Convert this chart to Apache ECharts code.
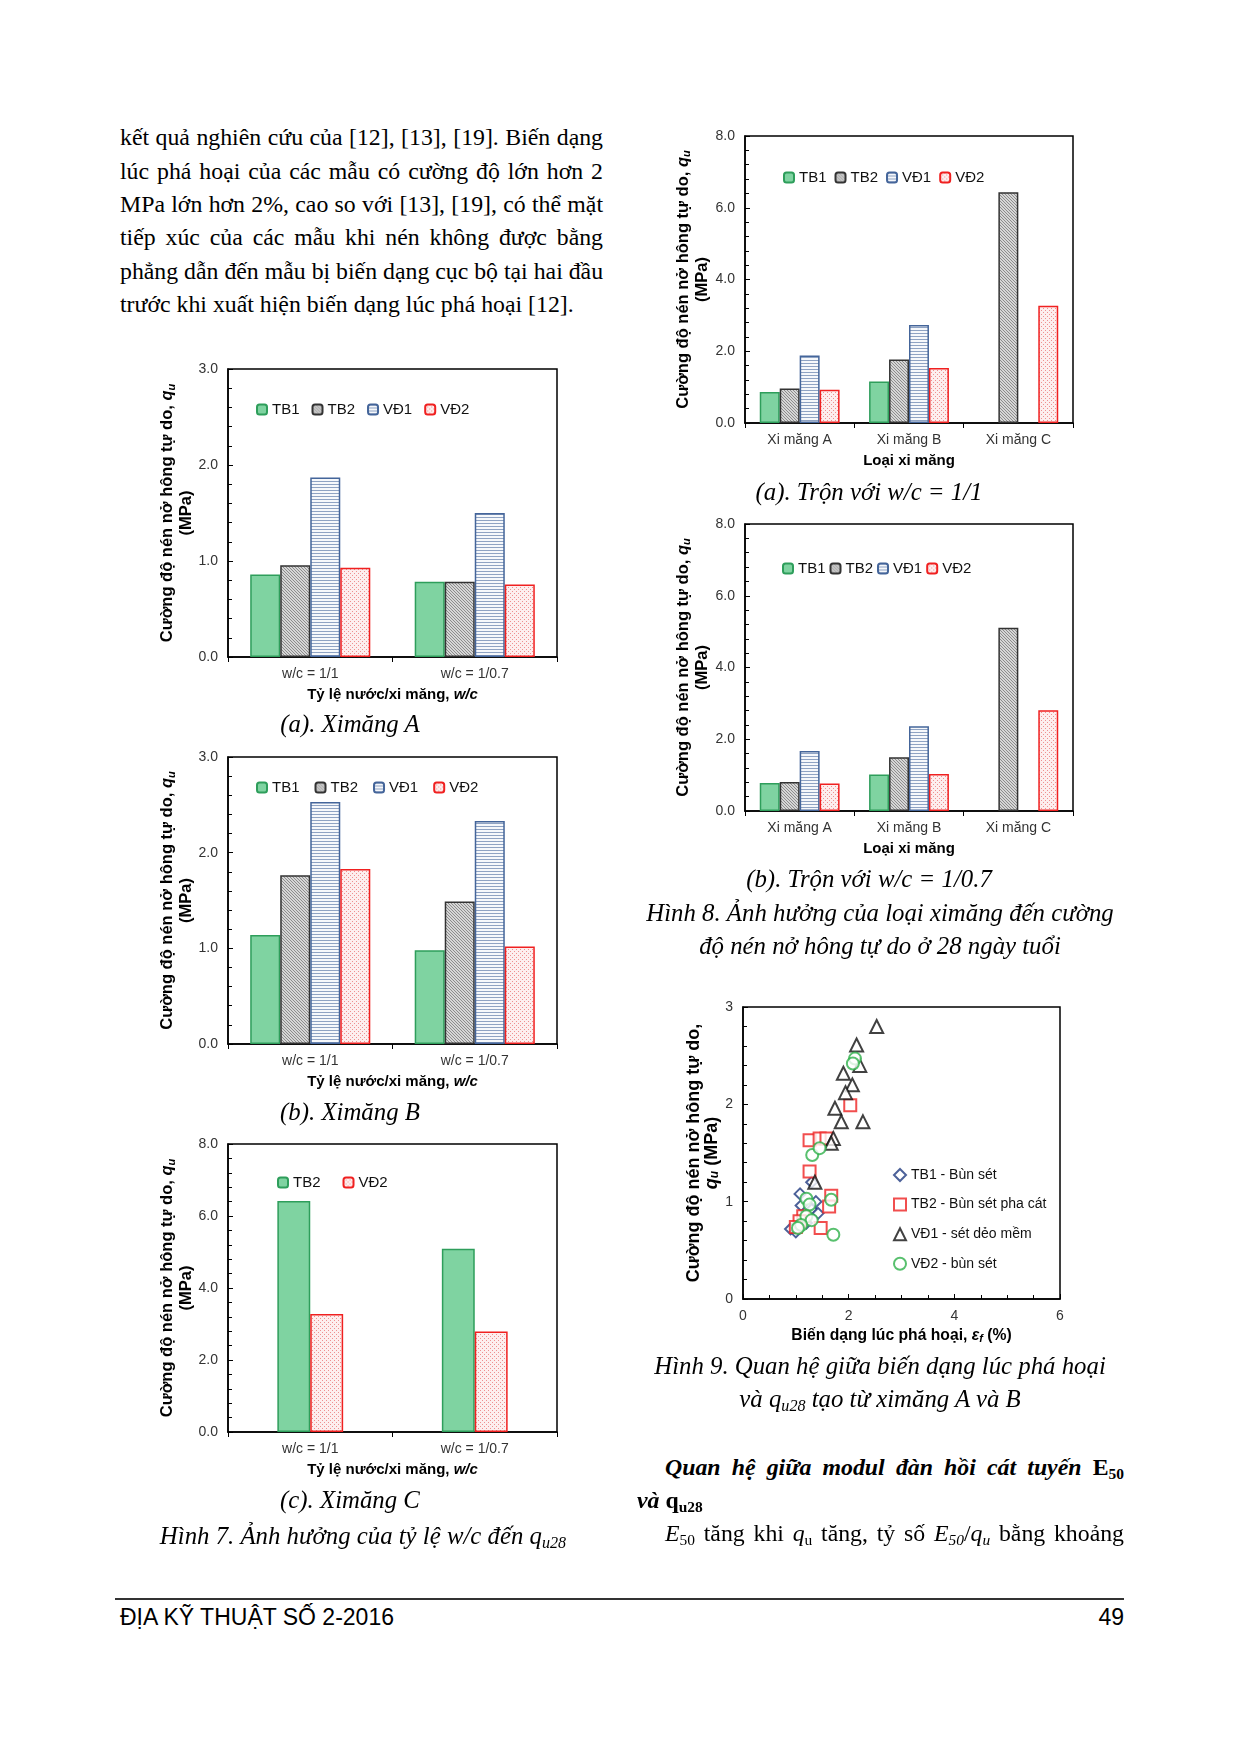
<!DOCTYPE html>
<html><head><meta charset="utf-8">
<script src="https://cdn.jsdelivr.net/npm/echarts@6/dist/echarts.min.js"></script>
<style>
html,body{margin:0;padding:0;background:#fff;}
body{width:1240px;height:1754px;position:relative;overflow:hidden;}
.t{position:absolute;font-family:"Liberation Serif","Times New Roman",serif;font-size:23.8px;line-height:34px;color:#000;white-space:nowrap;}
.j{text-align:justify;text-align-last:justify;}
.c{text-align:center;font-style:italic;font-size:24.8px;}
.ch{position:absolute;}
sub{font-size:65%;vertical-align:-0.25em;line-height:0;}
</style></head><body>

<div class="t j" style="left:120px;top:120px;width:483px;">kết quả nghiên cứu của [12], [13], [19]. Biến dạng</div>
<div class="t j" style="left:120px;top:154px;width:483px;">lúc phá hoại của các mẫu có cường độ lớn hơn 2</div>
<div class="t j" style="left:120px;top:187px;width:483px;">MPa lớn hơn 2%, cao so với [13], [19], có thể mặt</div>
<div class="t j" style="left:120px;top:220px;width:483px;">tiếp xúc của các mẫu khi nén không được bằng</div>
<div class="t j" style="left:120px;top:254px;width:483px;">phẳng dẫn đến mẫu bị biến dạng cục bộ tại hai đầu</div>
<div class="t" style="left:120px;top:287px;">trước khi xuất hiện biến dạng lúc phá hoại [12].</div>

<div class="ch" id="c7a" style="left:140px;top:355px;width:430px;height:360px;"></div>
<div class="t c" style="left:150px;top:707px;width:400px;">(a). Ximăng A</div>
<div class="ch" id="c7b" style="left:140px;top:745px;width:430px;height:360px;"></div>
<div class="t c" style="left:150px;top:1095px;width:400px;">(b). Ximăng B</div>
<div class="ch" id="c7c" style="left:140px;top:1130px;width:430px;height:360px;"></div>
<div class="t c" style="left:150px;top:1483px;width:400px;">(c). Ximăng C</div>
<div class="t c" style="left:113px;top:1519px;width:500px;">Hình 7. Ảnh hưởng của tỷ lệ w/c đến q<sub>u28</sub></div>

<div class="ch" id="c8a" style="left:655px;top:120px;width:430px;height:360px;"></div>
<div class="t c" style="left:669px;top:475px;width:400px;">(a). Trộn với w/c = 1/1</div>
<div class="ch" id="c8b" style="left:655px;top:510px;width:430px;height:360px;"></div>
<div class="t c" style="left:669px;top:862px;width:400px;">(b). Trộn với w/c = 1/0.7</div>
<div class="t c" style="left:610px;top:896px;width:540px;">Hình 8. Ảnh hưởng của loại ximăng đến cường</div>
<div class="t c" style="left:610px;top:929px;width:540px;">độ nén nở hông tự do ở 28 ngày tuổi</div>

<div class="ch" id="c9" style="left:670px;top:995px;width:420px;height:360px;"></div>
<div class="t c" style="left:610px;top:1349px;width:540px;">Hình 9. Quan hệ giữa biến dạng lúc phá hoại</div>
<div class="t c" style="left:610px;top:1382px;width:540px;">và q<sub>u28</sub> tạo từ ximăng A và B</div>

<div class="t j" style="left:665px;top:1450px;width:459px;font-weight:bold;font-style:italic;">Quan hệ giữa modul đàn hồi cát tuyến <span style="font-style:normal">E<sub>50</sub></span></div>
<div class="t" style="left:637px;top:1483px;font-weight:bold;"><i>và</i> q<sub>u28</sub></div>
<div class="t j" style="left:665px;top:1516px;width:459px;"><i>E</i><sub>50</sub> tăng khi <i>q</i><sub>u</sub> tăng, tỷ số <i>E<sub>50</sub></i>/<i>q<sub>u</sub></i> bằng khoảng</div>

<div style="position:absolute;left:115px;top:1598px;width:1009px;height:2px;background:#333;"></div>
<div style="position:absolute;left:120px;top:1604px;font-family:'Liberation Sans',Arial,sans-serif;font-size:23px;line-height:26px;">ĐỊA KỸ THUẬT SỐ 2-2016</div>
<div style="position:absolute;left:1024px;width:100px;text-align:right;top:1604px;font-family:'Liberation Sans',Arial,sans-serif;font-size:23px;line-height:26px;">49</div>

<script>
// ---------------- DATA ----------------
const seriesNames = ['TB1', 'TB2', 'VĐ1', 'VĐ2'];
const fig7Cats = ['w/c = 1/1', 'w/c = 1/0.7'];
const fig7a_TB1 = [0.86, 0.785];
const fig7a_TB2 = [0.955, 0.785];
const fig7a_VD1 = [1.87, 1.50];
const fig7a_VD2 = [0.93, 0.755];
const fig7b_TB1 = [1.14, 0.98];
const fig7b_TB2 = [1.765, 1.49];
const fig7b_VD1 = [2.53, 2.33];
const fig7b_VD2 = [1.83, 1.02];
const fig7c_TB2 = [6.42, 5.09];
const fig7c_VD2 = [3.28, 2.79];
const fig8Cats = ['Xi măng A', 'Xi măng B', 'Xi măng C'];
const fig8a_TB1 = [0.865, 1.155, null];
const fig8a_TB2 = [0.96, 1.77, 6.43];
const fig8a_VD1 = [1.88, 2.73, null];
const fig8a_VD2 = [0.93, 1.535, 3.27];
const fig8b_TB1 = [0.78, 1.02, null];
const fig8b_TB2 = [0.81, 1.50, 5.11];
const fig8b_VD1 = [1.67, 2.36, null];
const fig8b_VD2 = [0.77, 1.03, 2.81];
const fig9Names = ['TB1 - Bùn sét', 'TB2 - Bùn sét pha cát', 'VĐ1 - sét dẻo mềm', 'VĐ2 - bùn sét'];
const fig9_TB1 = [[0.9,0.72],[1.0,0.69],[1.08,1.08],[1.1,0.96],[1.2,0.78],[1.3,0.92],[1.38,1.0],[1.42,0.88],[1.3,1.2]];
const fig9_TB2 = [[2.03,1.99],[1.26,1.63],[1.45,1.65],[1.58,1.65],[1.26,1.31],[1.67,1.06],[1.63,0.95],[1.47,0.73],[1.14,0.85],[1.07,0.8],[1.0,0.74]];
const fig9_VD1 = [[2.53,2.8],[2.15,2.61],[2.21,2.4],[1.9,2.32],[2.07,2.2],[1.94,2.12],[1.74,1.96],[1.86,1.82],[2.27,1.82],[1.71,1.65],[1.67,1.6],[1.36,1.2]];
const fig9_VD2 = [[2.12,2.47],[2.08,2.42],[1.31,1.48],[1.45,1.55],[1.2,1.03],[1.26,0.97],[1.67,1.02],[1.71,0.66],[1.2,0.85],[1.3,0.81],[1.1,0.76],[1.04,0.73]];

// ---------------- STYLES ----------------
const SANS = '"Liberation Sans", Arial, sans-serif';
function tile(w, h, bg, pts, col) {
  const c = document.createElement('canvas'); c.width = w; c.height = h;
  const g = c.getContext('2d'); g.fillStyle = bg; g.fillRect(0, 0, w, h);
  g.fillStyle = col; pts.forEach(p => g.fillRect(p[0], p[1], p[2] || 1, p[3] || 1));
  return {image: c, repeat: 'repeat'};
}
const stTB1 = {color: '#7fd3a1', borderColor: '#2e9e5b', borderWidth: 1.5};
const stTB2 = {color: tile(3, 3, '#d6d6d6', [[0,0],[1,1],[2,2]], '#8c8c8c'), borderColor: '#333', borderWidth: 1.5};
const stVD1 = {color: tile(4, 3, '#f6f8fb', [[0,0,4,1]], '#8fa3c3'), borderColor: '#44659a', borderWidth: 1.5};
const stVD2 = {color: tile(4, 4, '#fdeeee', [[0,0],[2,2]], '#ee9090'), borderColor: '#f02020', borderWidth: 1.5};

function richSet(sz) {
  return {
    b: {fontFamily: SANS, fontWeight: 'bold', fontSize: sz, color: '#000'},
    q: {fontFamily: SANS, fontWeight: 'bold', fontStyle: 'italic', fontSize: sz, color: '#000'},
    s: {fontFamily: SANS, fontWeight: 'bold', fontStyle: 'italic', fontSize: Math.round(sz * 0.68), color: '#000', verticalAlign: 'bottom'}
  };
}

function barChart(id, o) {
  const ch = echarts.init(document.getElementById(id), null, {renderer: 'canvas'});
  ch.setOption({
    animation: false,
    grid: {left: o.grid[0], top: o.grid[1], width: o.grid[2], height: o.grid[3], show: true, borderColor: '#000', borderWidth: 1.5, containLabel: false},
    legend: {left: o.legend[0] - 5, top: o.legend[1] - 5, itemGap: o.legend[2], itemWidth: 10, itemHeight: 10,
      textStyle: {fontFamily: SANS, fontSize: 15, color: '#111'}, data: o.series.map(s => s.name)},
    xAxis: {type: 'category', data: o.cats,
      axisLine: {lineStyle: {color: '#000', width: 1.5}},
      axisTick: {show: true, alignWithLabel: false, length: 5, lineStyle: {color: '#000'}},
      axisLabel: {fontFamily: SANS, fontSize: 14, color: '#333', margin: 10},
      name: o.xName, nameLocation: 'middle', nameGap: 30, nameMoveOverlap: false,
      nameTextStyle: {rich: richSet(15)}},
    yAxis: {type: 'value', min: 0, max: o.yMax, interval: o.yInt,
      axisLine: {show: true, lineStyle: {color: '#000', width: 1.5}},
      axisTick: {show: true, inside: true, length: 5, lineStyle: {color: '#000'}},
      minorTick: {show: true, splitNumber: 5, length: 4, lineStyle: {color: '#000'}},
      splitLine: {show: false},
      axisLabel: {fontFamily: SANS, fontSize: 14, color: '#333', margin: 10, formatter: v => v.toFixed(1)},
      name: '{b|Cường độ nén nở hông tự do, }{q|q}{s|u}\n{b|(MPa)}',
      nameLocation: 'middle', nameRotate: 90, nameGap: o.yGap, nameMoveOverlap: false,
      nameTextStyle: {rich: richSet(16.5), lineHeight: 19}},
    series: o.series.map(s => ({type: 'bar', name: s.name, data: s.data, itemStyle: s.style,
      barGap: '0%', barCategoryGap: o.catGap}))
  });
}

barChart('c7a', {cats: fig7Cats, grid: [88, 14, 329, 288], legend: [116, 47, 12], yMax: 3, yInt: 1, yGap: 32, catGap: '27%',
  xName: '{b|Tỷ lệ nước/xi măng, }{q|w/c}',
  series: [{name: 'TB1', data: fig7a_TB1, style: stTB1}, {name: 'TB2', data: fig7a_TB2, style: stTB2},
           {name: 'VĐ1', data: fig7a_VD1, style: stVD1}, {name: 'VĐ2', data: fig7a_VD2, style: stVD2}]});
barChart('c7b', {cats: fig7Cats, grid: [88, 12, 329, 287], legend: [116, 35, 15], yMax: 3, yInt: 1, yGap: 32, catGap: '27%',
  xName: '{b|Tỷ lệ nước/xi măng, }{q|w/c}',
  series: [{name: 'TB1', data: fig7b_TB1, style: stTB1}, {name: 'TB2', data: fig7b_TB2, style: stTB2},
           {name: 'VĐ1', data: fig7b_VD1, style: stVD1}, {name: 'VĐ2', data: fig7b_VD2, style: stVD2}]});
barChart('c7c', {cats: fig7Cats, grid: [88, 14, 329, 288], legend: [137, 45, 22], yMax: 8, yInt: 2, yGap: 32, catGap: '60%',
  xName: '{b|Tỷ lệ nước/xi măng, }{q|w/c}',
  series: [{name: 'TB2', data: fig7c_TB2, style: stTB1}, {name: 'VĐ2', data: fig7c_VD2, style: stVD2}]});
barChart('c8a', {cats: fig8Cats, grid: [90, 16, 328, 287], legend: [128, 50, 8], yMax: 8, yInt: 2, yGap: 33.5, catGap: '27%',
  xName: '{b|Loại xi măng}',
  series: [{name: 'TB1', data: fig8a_TB1, style: stTB1}, {name: 'TB2', data: fig8a_TB2, style: stTB2},
           {name: 'VĐ1', data: fig8a_VD1, style: stVD1}, {name: 'VĐ2', data: fig8a_VD2, style: stVD2}]});
barChart('c8b', {cats: fig8Cats, grid: [90, 14, 328, 287], legend: [127, 51, 4], yMax: 8, yInt: 2, yGap: 33.5, catGap: '27%',
  xName: '{b|Loại xi măng}',
  series: [{name: 'TB1', data: fig8b_TB1, style: stTB1}, {name: 'TB2', data: fig8b_TB2, style: stTB2},
           {name: 'VĐ1', data: fig8b_VD1, style: stVD1}, {name: 'VĐ2', data: fig8b_VD2, style: stVD2}]});

// scatter Fig 9
(function () {
  const ch = echarts.init(document.getElementById('c9'));
  const sym = ['emptyDiamond', 'emptyRect', 'emptyTriangle', 'emptyCircle'];
  const col = ['#1f3a80', '#ee2222', '#111111', '#2eb04a'];
  const size = [11, 12, 13, 12];
  const dat = [fig9_TB1, fig9_TB2, fig9_VD1, fig9_VD2];
  ch.setOption({
    animation: false,
    grid: {left: 73, top: 12, width: 317, height: 292, show: true, borderColor: '#000', borderWidth: 1.5},
    legend: {orient: 'vertical', left: 218, top: 168, itemGap: 15.6, itemWidth: 12, itemHeight: 12,
      textStyle: {fontFamily: SANS, fontSize: 14, color: '#111'}, data: fig9Names},
    xAxis: {type: 'value', min: 0, max: 6, interval: 2,
      axisLine: {lineStyle: {color: '#000', width: 1.5}},
      axisTick: {show: true, inside: true, length: 5, lineStyle: {color: '#000'}},
      minorTick: {show: true, splitNumber: 4, length: 4, lineStyle: {color: '#000'}},
      splitLine: {show: false},
      axisLabel: {fontFamily: SANS, fontSize: 14, color: '#333', margin: 10},
      name: '{b|Biến dạng lúc phá hoại, }{q|ε}{s|f}{b| (%)}', nameLocation: 'middle', nameGap: 29, nameMoveOverlap: false,
      nameTextStyle: {rich: richSet(15.7)}},
    yAxis: {type: 'value', min: 0, max: 3, interval: 1,
      axisLine: {show: true, lineStyle: {color: '#000', width: 1.5}},
      axisTick: {show: true, inside: true, length: 5, lineStyle: {color: '#000'}},
      minorTick: {show: true, splitNumber: 5, length: 4, lineStyle: {color: '#000'}},
      splitLine: {show: false},
      axisLabel: {fontFamily: SANS, fontSize: 14, color: '#333', margin: 10},
      name: '{b|Cường độ nén nở hông tự do,}\n{q|q}{s|u}{b| (MPa)}', nameLocation: 'middle', nameRotate: 90, nameGap: 22, nameMoveOverlap: false,
      nameTextStyle: {rich: richSet(18), lineHeight: 18}},
    series: dat.map((d, i) => ({type: 'scatter', name: fig9Names[i], data: d, symbol: sym[i], symbolSize: size[i],
      itemStyle: {color: col[i], borderColor: col[i], borderWidth: 1.5}}))
  });
})();
</script>
</body></html>
